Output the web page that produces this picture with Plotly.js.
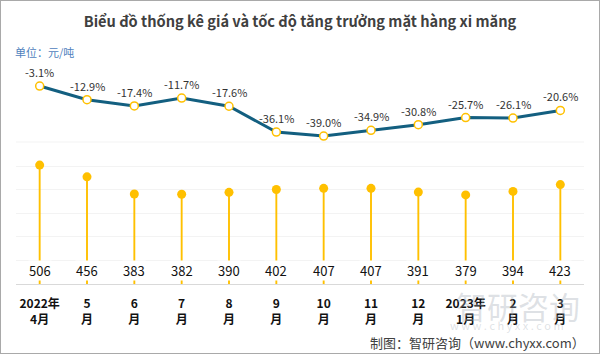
<!DOCTYPE html>
<html><head><meta charset="utf-8">
<script src="https://cdn.plot.ly/plotly-3.0.1.min.js"></script>
<style>html,body{margin:0;padding:0;background:#fff}#wrap{position:relative;width:600px;height:354px}#frame{position:absolute;left:0;top:0;width:598px;height:352px;border:1px solid #a9a9a9;pointer-events:none}</style>
</head><body><div id="wrap"><div id="chart" style="width:600px;height:354px"></div><div id="frame"></div></div>
<script>
const categories = ["2022年<br>4月","5<br>月","6<br>月","7<br>月","8<br>月","9<br>月","10<br>月","11<br>月","12<br>月","2023年<br>1月","2<br>月","3<br>月"];
const prices = [506,456,383,382,390,402,407,407,391,379,394,423];
const growth = [-3.1,-12.9,-17.4,-11.7,-17.6,-36.1,-39.0,-34.9,-30.8,-25.7,-26.1,-20.6];
const idx = categories.map((c,i)=>i);
const numFont = "Noto Sans CJK SC";

const traces = [
  {type:'bar', x:idx, y:prices, width:0.04, marker:{color:'#FFC000'}, hoverinfo:'none', yaxis:'y'},
  {type:'scatter', mode:'markers', x:idx, y:prices, marker:{color:'#FFC000', size:9}, yaxis:'y', hoverinfo:'none'},
  {type:'scatter', mode:'lines+markers', x:idx, y:growth, yaxis:'y2',
   line:{color:'#135f80', width:3},
   marker:{color:'#ffffff', size:8, line:{color:'#FFC000', width:1.5}}, hoverinfo:'none'}
];

const annotations = [];
// watermark first (drawn beneath)
annotations.push({x:0.884, y:-0.094, xref:'paper', yref:'paper', xanchor:'center', yanchor:'middle', showarrow:false,
  text:'智研咨询', font:{family:'Noto Sans CJK SC', size:31, color:'rgba(160,170,180,0.35)'}});
annotations.push({x:0.864, y:-0.183, xref:'paper', yref:'paper', xanchor:'center', yanchor:'middle', showarrow:false,
  text:'w w w . c h y x x . c o m', font:{family:'Noto Sans CJK SC', size:11, color:'rgba(160,170,180,0.35)'}});
prices.forEach((v,i)=>annotations.push({x:i, y:0.059, xref:'x', yref:'paper', text:String(v), showarrow:false,
  font:{family:numFont, size:13, color:'#111'}, bgcolor:'#ffffff', borderpad:0, yanchor:'middle'}));
growth.forEach((v,i)=>annotations.push({x:i, y:v, xref:'x', yref:'y2', text:v.toFixed(1)+'%', showarrow:false,
  font:{family:numFont, size:11, color:'#333'}, yshift:14, yanchor:'middle'}));
annotations.push({x:-0.005, y:1.036, xref:'paper', yref:'paper', xanchor:'left', yanchor:'middle', showarrow:false,
  text:'单位：元/吨', font:{family:'Noto Sans CJK SC', size:11, color:'#4f81bd'}});
annotations.push({x:1.005, y:-0.259, xref:'paper', yref:'paper', xanchor:'right', yanchor:'middle', showarrow:false,
  text:'制图：智研咨询（www.chyxx.com）', font:{family:'Noto Sans CJK SC', size:13, color:'#404040'}});

const layout = {
  width:600, height:354,
  margin:{l:16, r:16, t:60, b:70},
  paper_bgcolor:'#fff', plot_bgcolor:'#fff',
  showlegend:false,
  title:{text:'Biểu đồ thống kê giá và tốc độ tăng trưởng mặt hàng xi măng', x:0.5, xanchor:'center', y:0.938, yanchor:'middle',
    font:{family:'Noto Sans CJK SC', size:14.6, color:'#404040', weight:'bold'}},
  xaxis:{tickmode:'array', tickvals:idx, ticktext:categories.map(c=>'<b>'+c+'</b>'), range:[-0.5, 11.5],
    showline:true, linecolor:'#d9d9d9', linewidth:1, ticks:'', showgrid:false, zeroline:false,
    tickfont:{family:'Noto Sans CJK SC', size:12, color:'#111'}, ticklabelstandoff:9},
  yaxis:{range:[0, 953], tickvals:[100,200,300,400,500], showticklabels:false, gridcolor:'#f3f3f3', zeroline:false, fixedrange:true},
  yaxis2:{range:[-145.2, 15.6], overlaying:'y', showgrid:false, showticklabels:false, zeroline:false},
  shapes:[{type:'line', xref:'paper', yref:'paper', x0:0, x1:1, y0:0.634, y1:0.634, line:{color:'#f3f3f3', width:1}}],
  annotations
};
Plotly.newPlot('chart', traces, layout, {displayModeBar:false, staticPlot:true});
</script></body></html>
